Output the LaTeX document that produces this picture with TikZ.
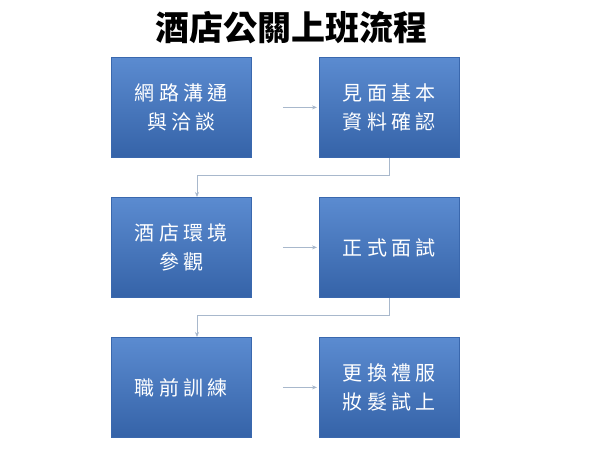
\documentclass[tikz,border=0pt]{standalone}
\usepackage{fontspec}
\newfontfamily\cjk{Noto Sans CJK TC}
\newfontfamily\cjksp[LetterSpace=22]{Noto Sans CJK TC}
\definecolor{btop}{HTML}{5B8BD0}
\definecolor{bbot}{HTML}{3563A8}
\definecolor{bline}{HTML}{3A68AE}
\definecolor{conn}{HTML}{A8B8CC}
\usetikzlibrary{arrows.meta}
\tikzset{
 box/.style={draw=bline,line width=0.8pt,top color=btop,bottom color=bbot,minimum width=140pt,minimum height=100pt,text=white,font=\cjksp\fontsize{20}{29}\selectfont,align=center,anchor=north west},
 conn/.style={draw=conn,line width=0.8pt,-{Stealth[length=5pt,width=4pt]}}
}
\begin{document}
\begin{tikzpicture}[x=1pt,y=-1pt]
\useasboundingbox (0,0) rectangle (600,450);
\node[font=\cjk\bfseries\fontsize{34}{40}\selectfont] (title) at (291,28) {酒店公關上班流程};
\node[box] (a) at (111,57) {網路溝通\\與洽談};
\node[box] (b) at (319,57) {見面基本\\資料確認};
\node[box] (c) at (111,197) {酒店環境\\參觀};
\node[box] (d) at (319,197) {正式面試};
\node[box] (e) at (111,337) {職前訓練};
\node[box] (f) at (319,337) {更換禮服\\妝髮試上};
\draw[conn] ([xshift=31pt]a.east) -- ([xshift=-2pt]b.west);
\draw[conn] ([xshift=31pt]c.east) -- ([xshift=-2pt]d.west);
\draw[conn] ([xshift=31pt]e.east) -- ([xshift=-2pt]f.west);
\draw[conn] (b.south) -- ++(0,18) -| ([xshift=86pt]c.north west);
\draw[conn] (d.south) -- ++(0,18) -| ([xshift=86pt]e.north west);
\end{tikzpicture}
\end{document}
